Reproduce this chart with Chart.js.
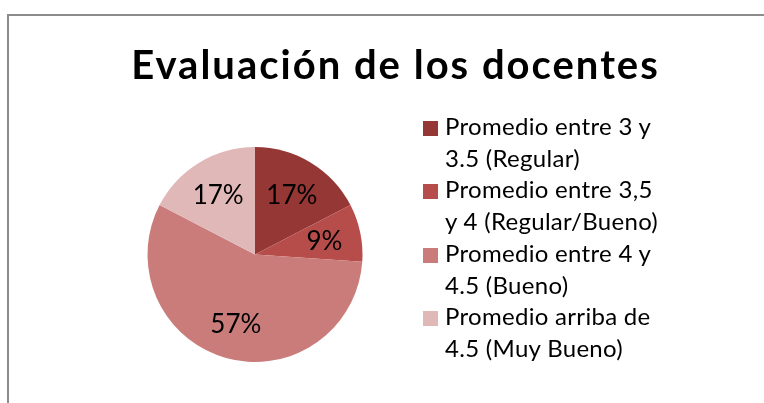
<!DOCTYPE html>
<html lang="es">
<head>
<meta charset="utf-8">
<script src="https://cdn.jsdelivr.net/npm/chart.js@4.4.1/dist/chart.umd.min.js"></script>
<style>
  html, body { margin: 0; padding: 0; background: #fff; }
  body { width: 764px; height: 403px; overflow: hidden; position: relative; font-family: Lato, "Open Sans", sans-serif; }
  #marco { position: absolute; left: 7px; top: 14px; width: 820px; height: 440px; border: 2px solid #8c8c8c; box-sizing: border-box; }
  #grafico { position: absolute; left: 0; top: 0; }
  #titulo { position: absolute; left: 0; width: 791px; top: 44px; text-align: center; font-weight: bold; font-size: 40px; line-height: 40px; letter-spacing: 2px; color: #000; }
  #leyenda { position: absolute; left: 423px; top: 110px; font-size: 24px; line-height: 31.7px; letter-spacing: 0.3px; color: #000; }
  .item { position: relative; padding-left: 22px; }
  .item .cuadro { position: absolute; left: 0; top: 10.7px; width: 15px; height: 15px; }
</style>
</head>
<body>
<div id="marco"></div>
<canvas id="grafico" width="764" height="403"></canvas>
<div id="titulo">Evaluación de los docentes</div>
<div id="leyenda"></div>
<script>
// Datos del gráfico (docentes por rango de promedio)
const categorias = [
  ['Promedio entre 3 y', '3.5 (Regular)'],
  ['Promedio entre 3,5', 'y 4 (Regular/Bueno)'],
  ['Promedio entre 4 y', '4.5 (Bueno)'],
  ['Promedio arriba de', '4.5 (Muy Bueno)']
];
const docentes = [4, 2, 13, 4];
const colores = ['#953735', '#B74D4B', '#CA7C7B', '#DFB8B7'];

// Etiquetas de porcentaje dentro de cada sector
const etiquetasPorcentaje = {
  id: 'etiquetasPorcentaje',
  afterDatasetsDraw(chart) {
    const ctx = chart.ctx;
    const meta = chart.getDatasetMeta(0);
    const valores = chart.data.datasets[0].data;
    const total = valores.reduce((a, b) => a + b, 0);
    ctx.save();
    ctx.font = '26px Lato, "Open Sans", sans-serif';
    ctx.fillStyle = '#000';
    ctx.textAlign = 'center';
    ctx.textBaseline = 'middle';
    meta.data.forEach((arco, i) => {
      const medio = (arco.startAngle + arco.endAngle) / 2;
      const r = arco.outerRadius * 0.66;
      const x = arco.x + Math.cos(medio) * r;
      const y = arco.y + Math.sin(medio) * r;
      ctx.fillText(Math.round(valores[i] / total * 100) + '%', x, y + 2);
    });
    ctx.restore();
  }
};

const ctx = document.getElementById('grafico').getContext('2d');
new Chart(ctx, {
  type: 'pie',
  data: {
    labels: categorias,
    datasets: [{
      data: docentes,
      backgroundColor: colores,
      borderWidth: 0,
      hoverOffset: 0
    }]
  },
  options: {
    responsive: false,
    animation: false,
    layout: { padding: { left: 147.5, right: 401.5, top: 147, bottom: 41 } },
    plugins: {
      legend: { display: false },
      tooltip: { enabled: false },
      title: { display: false }
    }
  },
  plugins: [etiquetasPorcentaje]
});

// Leyenda en HTML
const leyenda = document.getElementById('leyenda');
categorias.forEach((lineas, i) => {
  const item = document.createElement('div');
  item.className = 'item';
  const cuadro = document.createElement('span');
  cuadro.className = 'cuadro';
  cuadro.style.background = colores[i];
  item.appendChild(cuadro);
  lineas.forEach(l => {
    const linea = document.createElement('div');
    linea.textContent = l;
    item.appendChild(linea);
  });
  leyenda.appendChild(item);
});
</script>
</body>
</html>
